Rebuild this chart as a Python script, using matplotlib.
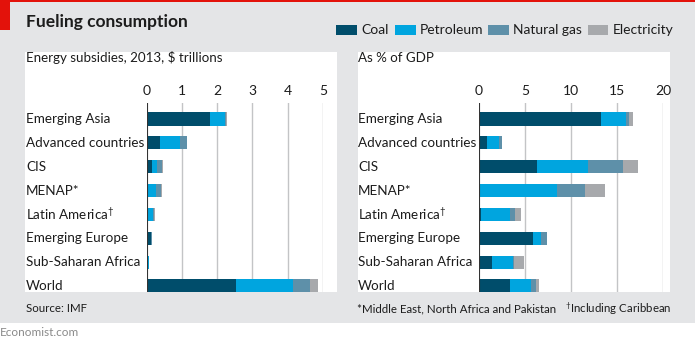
import matplotlib.pyplot as plt
from matplotlib.patches import Rectangle
from matplotlib import transforms

plt.rcParams['font.family'] = ['Lato', 'DejaVu Sans']
plt.rcParams['mathtext.default'] = 'regular'

regions = ['Emerging Asia', 'Advanced countries', 'CIS', 'MENAP*',
           'Latin America$^{\u2020}$', 'Emerging Europe', 'Sub-Saharan Africa', 'World']
fuels = ['Coal', 'Petroleum', 'Natural gas', 'Electricity']
colors = ['#004d6b', '#00a5df', '#5e90a9', '#a7a9ac']

# $ trillions
usd_coal = [1.80, 0.39, 0.16, 0.00, 0.00, 0.12, 0.00, 2.54]
usd_petrol = [0.41, 0.56, 0.15, 0.27, 0.19, 0.02, 0.06, 1.62]
usd_gas = [0.04, 0.19, 0.13, 0.14, 0.03, 0.01, 0.01, 0.48]
usd_elec = [0.04, 0.01, 0.04, 0.04, 0.03, 0.00, 0.00, 0.23]

# % of GDP
gdp_coal = [13.2, 0.9, 6.3, 0.0, 0.2, 5.9, 1.4, 3.4]
gdp_petrol = [2.8, 1.3, 5.5, 8.5, 3.2, 0.8, 2.3, 2.2]
gdp_gas = [0.3, 0.3, 3.85, 3.0, 0.5, 0.7, 0.1, 0.6]
gdp_elec = [0.4, 0.0, 1.65, 2.2, 0.7, 0.0, 1.1, 0.3]

usd_ticks = [0, 1, 2, 3, 4, 5]
gdp_ticks = [0, 5, 10, 15, 20]

W, H = 695, 345
bg = '#e4e5e7'
txt = '#1c1c1c'

fig = plt.figure(figsize=(W / 100, H / 100), dpi=100)
fig.patch.set_facecolor('white')


def box(x0, y0, x1, y1):
    # pixel box (top-left origin) -> figure fraction rect
    return [x0 / W, 1 - y1 / H, (x1 - x0) / W, (y1 - y0) / H]


def fx(x):
    return x / W


def fy(y):
    return 1 - y / H


# grey background, red marks
fig.patches.append(Rectangle((0, fy(323)), 1, 1 - fy(323), transform=fig.transFigure,
                             facecolor=bg, edgecolor='none', zorder=-3))
fig.patches.append(Rectangle((0, fy(1.5)), 1, 1.5 / H, transform=fig.transFigure,
                             facecolor='#e3120b', edgecolor='none', zorder=-2))
fig.patches.append(Rectangle((0, fy(30)), fx(10), 30 / H, transform=fig.transFigure,
                             facecolor='#e3120b', edgecolor='none', zorder=-2))
# white panels
for x0, x1 in [(25, 337), (358, 670)]:
    fig.patches.append(Rectangle((fx(x0), fy(292)), fx(x1 - x0), 240 / H,
                                 transform=fig.transFigure, facecolor='white',
                                 edgecolor='none', zorder=-2))

fig.text(fx(26), fy(22), 'Fueling consumption', fontsize=12.5, fontweight='bold',
         color=txt, va='center', ha='left')

# legend
leg_x = [(336, 357, 361), (395, 416, 420), (488, 509, 513), (588, 608, 613)]
for (a, b, t), name, c in zip(leg_x, fuels, colors):
    fig.patches.append(Rectangle((fx(a), fy(35)), fx(b - a), 10 / H,
                                 transform=fig.transFigure, facecolor=c,
                                 edgecolor='none', zorder=-1))
    fig.text(fx(t), fy(30), name, fontsize=10, color=txt, va='center', ha='left')

fig.text(fx(26), fy(58), 'Energy subsidies, 2013, $ trillions', fontsize=9.6,
         color=txt, va='center', ha='left')
fig.text(fx(358), fy(58), 'As % of GDP', fontsize=9.6, color=txt,
         va='center', ha='left')


def panel(rect, data, ticks, label_x):
    ax = fig.add_axes(rect)
    ax.set_facecolor('none')
    ax.set_xlim(ticks[0], ticks[-1])
    ax.set_ylim(7.25, -0.67)
    for t in ticks[1:]:
        ax.axvline(t, color='#c3c4c6', lw=1, zorder=0)
    ax.axvline(0, color='#333333', lw=0.8, zorder=3)
    left = [0] * len(regions)
    for vals, c in zip(data, colors):
        ax.barh(range(len(regions)), vals, left=left, height=0.55, color=c,
                edgecolor='none', zorder=2)
        left = [l + v for l, v in zip(left, vals)]
    ax.xaxis.tick_top()
    ax.set_xticks(ticks)
    ax.set_xticklabels([str(t) for t in ticks], fontsize=10, color=txt)
    ax.tick_params(axis='x', length=0, pad=4)
    ax.set_yticks([])
    for s in ax.spines.values():
        s.set_visible(False)
    tr = transforms.blended_transform_factory(fig.transFigure, ax.transData)
    for i, r in enumerate(regions):
        ax.text(fx(label_x), i, r, transform=tr, fontsize=9.7, color=txt,
                va='center', ha='left')
    return ax


panel(box(146.5, 103, 323, 292), [usd_coal, usd_petrol, usd_gas, usd_elec],
      usd_ticks, 26)
panel(box(479, 103, 663.3, 292), [gdp_coal, gdp_petrol, gdp_gas, gdp_elec],
      gdp_ticks, 358)

fig.text(fx(26), fy(309), 'Source: IMF', fontsize=8.3, color=txt, va='center')
fig.text(fx(357), fy(309), '*Middle East, North Africa and Pakistan', fontsize=8.3,
         color=txt, va='center')
fig.text(fx(565), fy(309), '$^{\u2020}$Including Caribbean', fontsize=8.3, color=txt,
         va='center')
fig.text(fx(0), fy(333), 'Economist.com', fontsize=8.5, color='#8a8a8a', va='center')

fig.savefig('out.png', dpi=100, facecolor=fig.get_facecolor())
